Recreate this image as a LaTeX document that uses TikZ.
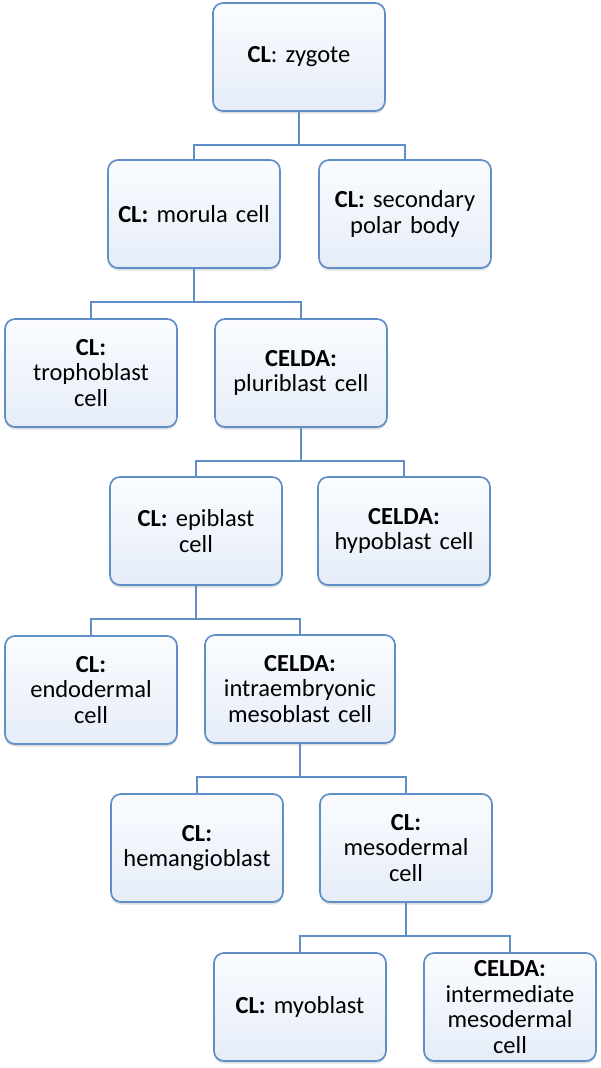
\documentclass[tikz,border=0pt]{standalone}
\usepackage{fontspec}
\setmainfont{Carlito}
\frenchspacing
\usetikzlibrary{positioning, shadows}
\definecolor{cellline}{RGB}{96,143,200}
\definecolor{celltop}{RGB}{250,252,255}
\definecolor{cellbot}{RGB}{230,237,248}

\begin{document}
\begin{tikzpicture}[
  x=1pt, y=1pt,
  cell/.style={draw=cellline, line width=1.7pt, rounded corners=10pt, top color=celltop, bottom color=cellbot,
    minimum width=172pt, minimum height=108pt, text width=166pt, align=center, inner sep=2pt,
    font=\fontsize{24.5}{25.5}\selectfont,
    drop shadow={shadow xshift=0pt, shadow yshift=-2.5pt, opacity=0.25}},
  link/.style={draw=cellline, line width=1.8pt}
]
\useasboundingbox (0,0) rectangle (600,-1068);

% Root
\node[cell] (zyg) at (299,-57) {\textbf{CL}: zygote};

% Second row
\node[cell] (morula) at (194,-214) {\textbf{CL:} morula cell};
\node[cell] (polar) at (405,-214) {\textbf{CL:} secondary\\polar body};

% Third row
\node[cell] (troph) at (91,-373) {\textbf{CL:}\\trophoblast\\cell};
\node[cell] (pluri) at (301,-373) {\textbf{CELDA:}\\pluriblast cell};

% Fourth row
\node[cell] (epi) at (196,-531) {\textbf{CL:} epiblast\\cell};
\node[cell] (hypo) at (404,-531) {\textbf{CELDA:}\\hypoblast cell};

% Fifth row
\node[cell] (endo) at (91,-690) {\textbf{CL:}\\endodermal\\cell};
\node[cell, minimum width=190pt, text width=184pt] (intra) at (300,-689) {\textbf{CELDA:}\\intraembryonic\\mesoblast cell};

% Sixth row
\node[cell] (hem) at (197,-848) {\textbf{CL:}\\hemangioblast};
\node[cell] (meso) at (406,-848) {\textbf{CL:}\\mesodermal\\cell};

% Last row
\node[cell] (myo) at (300,-1007) {\textbf{CL:} myoblast};
\node[cell] (inter) at (510,-1007) {\textbf{CELDA:}\\intermediate\\mesodermal\\cell};

% Tree connectors
\foreach \p/\c in {zyg/morula, zyg/polar, morula/troph, morula/pluri, pluri/epi, pluri/hypo,
                   epi/endo, epi/intra, intra/hem, intra/meso, meso/myo, meso/inter}
  \draw[link] (\p.south) -- ++(0,-33) -| (\c.north);

\end{tikzpicture}
\end{document}
